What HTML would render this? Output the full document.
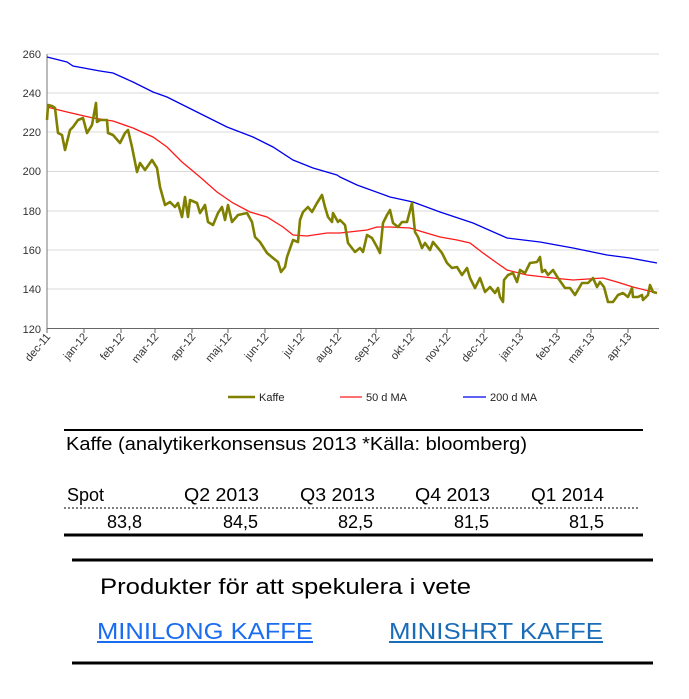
<!DOCTYPE html>
<html><head><meta charset="utf-8"><style>
html,body{margin:0;padding:0;background:#fff;}
svg{display:block;font-family:"Liberation Sans",Arial,sans-serif;}
</style></head><body>
<svg width="689" height="699" viewBox="0 0 689 699" xmlns="http://www.w3.org/2000/svg">
<rect width="689" height="699" fill="#fff"/>
<g stroke="#d9d9d9" stroke-width="1">
<line x1="47" y1="54" x2="659" y2="54"/>
<line x1="47" y1="93" x2="659" y2="93"/>
<line x1="47" y1="132" x2="659" y2="132"/>
<line x1="47" y1="171.5" x2="659" y2="171.5"/>
<line x1="47" y1="211" x2="659" y2="211"/>
<line x1="47" y1="250" x2="659" y2="250"/>
<line x1="47" y1="289" x2="659" y2="289"/>
</g>
<line x1="47" y1="54" x2="47" y2="329" stroke="#777" stroke-width="1"/>
<line x1="47" y1="328.5" x2="659" y2="328.5" stroke="#666" stroke-width="1"/>
<g fill="#333" font-size="11" text-anchor="end">
<text x="41" y="58">260</text><text x="41" y="97">240</text><text x="41" y="136">220</text>
<text x="41" y="175">200</text><text x="41" y="215">180</text><text x="41" y="254">160</text>
<text x="41" y="293">140</text><text x="41" y="333">120</text>
</g>
<g stroke="#666" stroke-width="1">
<line x1="47" y1="329" x2="47" y2="333"/><line x1="84" y1="329" x2="84" y2="333"/><line x1="121" y1="329" x2="121" y2="333"/><line x1="155" y1="329" x2="155" y2="333"/><line x1="192" y1="329" x2="192" y2="333"/><line x1="228" y1="329" x2="228" y2="333"/><line x1="265" y1="329" x2="265" y2="333"/><line x1="301" y1="329" x2="301" y2="333"/><line x1="338" y1="329" x2="338" y2="333"/><line x1="376" y1="329" x2="376" y2="333"/><line x1="411" y1="329" x2="411" y2="333"/><line x1="447" y1="329" x2="447" y2="333"/><line x1="484" y1="329" x2="484" y2="333"/><line x1="520" y1="329" x2="520" y2="333"/><line x1="557" y1="329" x2="557" y2="333"/><line x1="591" y1="329" x2="591" y2="333"/><line x1="628" y1="329" x2="628" y2="333"/>
</g>
<g fill="#333" font-size="11" text-anchor="end">
<text transform="translate(51,337) rotate(-50)">dec-11</text>
<text transform="translate(88,337) rotate(-50)">jan-12</text>
<text transform="translate(125,337) rotate(-50)">feb-12</text>
<text transform="translate(159,337) rotate(-50)">mar-12</text>
<text transform="translate(196,337) rotate(-50)">apr-12</text>
<text transform="translate(232,337) rotate(-50)">maj-12</text>
<text transform="translate(269,337) rotate(-50)">jun-12</text>
<text transform="translate(305,337) rotate(-50)">jul-12</text>
<text transform="translate(342,337) rotate(-50)">aug-12</text>
<text transform="translate(380,337) rotate(-50)">sep-12</text>
<text transform="translate(415,337) rotate(-50)">okt-12</text>
<text transform="translate(451,337) rotate(-50)">nov-12</text>
<text transform="translate(488,337) rotate(-50)">dec-12</text>
<text transform="translate(524,337) rotate(-50)">jan-13</text>
<text transform="translate(561,337) rotate(-50)">feb-13</text>
<text transform="translate(595,337) rotate(-50)">mar-13</text>
<text transform="translate(632,337) rotate(-50)">apr-13</text>
</g>
<polyline fill="none" stroke="#0000ee" stroke-width="1.3" points="47,57 67,62 73,66 100,71 113,73 133,82 153,92 167,97 187,107 207,117 227,127 253,137 273,147 293,160 313,168 337,175 340,177 357,185 390,197 413,202 440,212 473,223 507,238 540,242 573,248 607,255 630,258 657,263"/>
<polyline fill="none" stroke="#ff1a1a" stroke-width="1.3" points="47,107 67,112 93,118 113,121 133,128 153,137 167,147 182,162 200,177 217,192 233,203 250,212 267,217 283,227 293,235 307,236 327,233 340,233 367,230 377,227 390,227 410,228 423,232 440,237 457,240 470,243 483,253 497,263 507,270 527,275 553,278 573,280 603,278 617,282 633,287 657,293"/>
<polyline fill="none" stroke="#808000" stroke-width="2.6" stroke-linejoin="round" points="47,120 48,105 52,106 55,108 58,133 62,135 65,150 70,130 73,127 78,120 83,118 87,133 92,125 96,103 97,122 100,120 107,120 108,133 113,135 120,143 125,133 128,130 132,147 137,172 140,163 145,170 152,160 157,168 160,187 165,205 170,202 175,207 178,203 182,217 185,197 188,217 190,200 197,203 200,213 205,205 208,222 213,225 218,213 222,207 225,220 228,205 232,222 238,215 247,213 252,222 255,237 260,242 267,253 273,258 278,262 281,272 285,267 287,257 293,240 298,242 300,220 303,212 308,207 312,212 317,203 322,195 325,207 328,217 332,222 333,213 338,222 340,220 345,225 348,243 355,252 360,248 363,252 367,235 372,238 377,247 380,253 383,223 387,215 390,210 393,223 398,227 402,222 407,222 412,203 415,232 418,237 422,248 425,243 430,250 433,242 438,248 442,253 447,263 452,268 457,267 462,275 467,268 470,278 475,288 480,278 485,292 490,287 495,293 498,288 500,297 503,302 504,280 508,275 513,273 517,282 520,270 525,273 530,263 537,262 540,257 542,272 545,270 548,275 553,270 558,278 565,288 570,288 575,295 582,283 588,283 593,278 597,287 600,282 604,287 608,302 613,302 618,295 623,293 628,297 632,288 633,297 638,297 642,295 643,300 648,295 650,285 653,292 657,293"/>
<g font-size="11" fill="#222">
<line x1="228" y1="397" x2="255" y2="397" stroke="#808000" stroke-width="2.6"/>
<text x="259" y="401">Kaffe</text>
<line x1="340" y1="397" x2="362" y2="397" stroke="#ff1a1a" stroke-width="1.3"/>
<text x="366" y="401">50 d MA</text>
<line x1="463" y1="397" x2="486" y2="397" stroke="#0000ee" stroke-width="1.3"/>
<text x="490" y="401">200 d MA</text>
</g>
<line x1="64" y1="430" x2="643" y2="430" stroke="#000" stroke-width="2"/>
<g font-size="18" fill="#000">
<text x="66" y="450" textLength="461" lengthAdjust="spacingAndGlyphs">Kaffe (analytikerkonsensus 2013 *Källa: bloomberg)</text>
<text x="67" y="501">Spot</text>
<text x="184" y="501" textLength="75" lengthAdjust="spacingAndGlyphs">Q2 2013</text>
<text x="300" y="501" textLength="75" lengthAdjust="spacingAndGlyphs">Q3 2013</text>
<text x="415" y="501" textLength="75" lengthAdjust="spacingAndGlyphs">Q4 2013</text>
<text x="531" y="501" textLength="73" lengthAdjust="spacingAndGlyphs">Q1 2014</text>
<g text-anchor="end">
<text x="142" y="528">83,8</text><text x="258" y="528">84,5</text><text x="373" y="528">82,5</text><text x="489" y="528">81,5</text><text x="604" y="528">81,5</text>
</g>
</g>
<line x1="64" y1="508" x2="640" y2="508" stroke="#000" stroke-width="1" stroke-dasharray="2,2"/>
<line x1="64" y1="535" x2="643" y2="535" stroke="#000" stroke-width="3"/>
<line x1="72" y1="560" x2="653" y2="560" stroke="#000" stroke-width="3"/>
<text x="100" y="594" font-size="22" fill="#000" textLength="371" lengthAdjust="spacingAndGlyphs">Produkter för att spekulera i vete</text>
<text x="97" y="639" font-size="23" fill="#1a6cf0" textLength="216" lengthAdjust="spacingAndGlyphs">MINILONG KAFFE</text>
<line x1="97" y1="642" x2="313" y2="642" stroke="#1a6cf0" stroke-width="2"/>
<text x="389" y="639" font-size="23" fill="#1a6cb8" textLength="214" lengthAdjust="spacingAndGlyphs">MINISHRT KAFFE</text>
<line x1="389" y1="642" x2="603" y2="642" stroke="#1a6cb8" stroke-width="2"/>
<line x1="72" y1="663" x2="653" y2="663" stroke="#000" stroke-width="3"/>
</svg>
</body></html>
